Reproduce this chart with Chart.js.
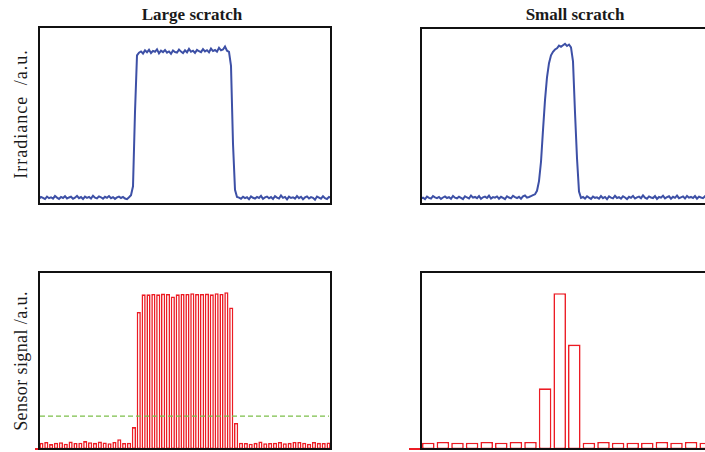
<!DOCTYPE html>
<html>
<head>
<meta charset="utf-8">
<script src="https://cdn.jsdelivr.net/npm/chart.js@4.4.1/dist/chart.umd.min.js"></script>
<style>
  html, body { margin: 0; padding: 0; background: #fff; overflow: hidden; }
  body { width: 705px; height: 452px; position: relative; }
  canvas { position: absolute; }
  .lbl { position: absolute; white-space: nowrap; font-family: "Liberation Serif", "DejaVu Serif", serif; color: #1a1a1a; }
  .ttl { font-weight: bold; font-size: 17px; transform: translate(-50%, -50%); }
  .ylab { font-size: 18px; transform: translate(-50%, -50%) rotate(-90deg); }
</style>
</head>
<body>
<div class="lbl ttl" style="left:192px; top:15px;">Large scratch</div>
<div class="lbl ttl" style="left:575px; top:15px;">Small scratch</div>
<div class="lbl ylab" style="left:21px; top:114px; letter-spacing:1px; word-spacing:5px;">Irradiance /a.u.</div>
<div class="lbl ylab" style="left:21px; top:361px; letter-spacing:0.4px;">Sensor signal /a.u.</div>

<canvas id="irrLarge" width="296" height="181" style="left:37px; top:25px;"></canvas>
<canvas id="irrSmall" width="296" height="180" style="left:419px; top:26px;"></canvas>
<canvas id="sigLarge" width="300" height="181" style="left:33px; top:270px;"></canvas>
<canvas id="sigSmall" width="308" height="181" style="left:407px; top:270px;"></canvas>

<script>
// sample positions along the scan (same for both irradiance profiles)
const positions = [
  0,2,4,6,8,10,12,14,16,18,20,22,24,26,28,30,32,34,36,38,
  40,42,44,46,48,50,52,54,56,58,60,62,64,66,68,70,72,74,76,78,
  80,82,84,86,88,90,92,94,96,98,100,102,104,106,108,110,112,114,116,118,
  120,122,124,126,128,130,132,134,136,138,140,142,144,146,148,150,152,154,156,158,
  160,162,164,166,168,170,172,174,176,178,180,182,184,186,188,190,192,194,196,198,
  200,202,204,206,208,210,212,214,216,218,220,222,224,226,228,230,232,234,236,238,
  240,242,244,246,248,250,252,254,256,258,260,262,264,266,268,270,272,274,276,278,
  280,282,284,286,288,290,292
];

const irradianceLarge = [
  0.03,0.04,0.035,0.028,0.042,0.033,0.038,0.03,0.045,0.036,
  0.029,0.04,0.034,0.044,0.031,0.037,0.041,0.03,0.036,0.046,
  0.033,0.039,0.028,0.042,0.035,0.04,0.031,0.047,0.036,0.032,
  0.043,0.038,0.03,0.041,0.035,0.045,0.033,0.039,0.029,0.037,
  0.042,0.034,0.04,0.031,0.027,0.038,
  0.05,0.1,0.52,0.84,0.855,
  0.862,0.85,0.868,0.857,0.871,0.853,0.865,0.86,0.874,0.851,
  0.866,0.858,0.87,0.855,0.862,0.849,0.867,0.859,0.856,0.872,
  0.861,0.853,0.868,0.857,0.876,0.86,0.866,0.854,0.871,0.863,
  0.858,0.875,0.862,0.869,0.857,0.878,0.864,0.87,0.861,0.882,
  0.868,0.873,0.89,0.866,0.86,
  0.78,0.34,0.08,0.04,
  0.036,0.03,0.041,0.033,0.038,0.027,0.043,0.035,0.031,0.04,
  0.034,0.046,0.029,0.037,0.042,0.032,0.039,0.028,0.044,0.036,
  0.031,0.048,0.035,0.04,0.026,0.042,0.034,0.038,0.03,0.045,
  0.033,0.041,0.027,0.037,0.043,0.031,0.039,0.035,0.024,0.042,
  0.036,0.03,0.044,0.033,0.028,0.04,0.035
];

const irradianceSmall = [
  0.03,0.036,0.028,0.042,0.035,0.031,0.045,0.038,0.033,0.04,
  0.029,0.037,0.043,0.034,0.039,0.03,0.046,0.036,0.032,0.041,
  0.035,0.028,0.044,0.037,0.031,0.048,0.036,0.04,0.033,0.045,
  0.029,0.038,0.042,0.034,0.047,0.031,0.039,0.036,0.043,0.03,
  0.041,0.035,0.028,0.044,0.037,0.032,0.046,0.039,0.034,0.041,
  0.03,0.043,0.048,0.036,0.04,0.045,0.05,
  0.055,0.075,0.13,0.24,0.42,0.59,0.72,0.8,0.845,0.865,
  0.878,0.885,0.9,0.893,0.902,0.91,0.898,0.906,0.89,0.81,
  0.52,0.26,0.07,0.035,
  0.04,0.031,0.044,0.036,0.029,0.042,0.035,0.038,0.03,0.045,
  0.033,0.04,0.027,0.043,0.036,0.032,0.047,0.034,0.039,0.03,
  0.044,0.037,0.028,0.041,0.035,0.046,0.031,0.038,0.042,0.033,
  0.049,0.036,0.03,0.043,0.037,0.034,0.045,0.029,0.04,0.036,
  0.047,0.032,0.039,0.044,0.03,0.041,0.035,0.048,0.033,0.038,
  0.043,0.031,0.046,0.036,0.04,0.034,0.045,0.03,0.042,0.037,
  0.033,0.044,0.039,0.035,0.041,0.036
];

// sensor pixels: 60 for the large scratch, 20 for the small one
const pixelsLarge = [
  1,2,3,4,5,6,7,8,9,10,11,12,13,14,15,16,17,18,19,20,
  21,22,23,24,25,26,27,28,29,30,31,32,33,34,35,36,37,38,39,40,
  41,42,43,44,45,46,47,48,49,50,51,52,53,54,55,56,57,58,59,60
];
const signalLarge = [
  0.035,0.04,0.028,0.036,0.038,0.03,0.042,0.034,0.036,0.045,
  0.038,0.035,0.042,0.037,0.033,0.04,0.055,0.034,0.036,
  0.124,0.774,
  0.874,0.874,0.876,0.874,0.878,0.876,0.862,0.874,0.876,0.876,
  0.88,0.876,0.876,0.878,0.874,0.88,0.876,0.886,
  0.8,0.147,
  0.036,0.034,0.03,0.035,0.042,0.033,0.034,0.036,0.04,0.033,
  0.035,0.04,0.04,0.036,0.03,0.04,0.035,0.034,0.037
];

const pixelsSmall = [1,2,3,4,5,6,7,8,9,10,11,12,13,14,15,16,17,18,19,20];
const signalSmall = [
  0.036,0.04,0.036,0.036,0.04,0.036,0.04,0.04,0.343,0.88,
  0.59,0.036,0.04,0.036,0.036,0.036,0.04,0.036,0.04,0.036
];

const threshold = 0.186;

const BLUE = "#3d50a6";
const RED = "#ec1c24";
const GREEN = "#7cbf4a";

// box around the plot area, plus threshold line and baseline stub
const framePlugin = {
  id: "frame",
  afterDatasetsDraw(chart, args, opts) {
    const { ctx, chartArea: a } = chart;
    ctx.save();
    if (opts.threshold != null) {
      const y = chart.scales.y.getPixelForValue(opts.threshold);
      ctx.strokeStyle = GREEN;
      ctx.lineWidth = 1.2;
      ctx.setLineDash([5, 3]);
      ctx.beginPath();
      ctx.moveTo(a.left + 1, y);
      ctx.lineTo(a.right - 2, y);
      ctx.stroke();
      ctx.setLineDash([]);
    }
    ctx.strokeStyle = "#111";
    ctx.lineWidth = 2;
    ctx.strokeRect(a.left, a.top, a.width, a.height);
    if (opts.stub) {
      ctx.strokeStyle = RED;
      ctx.lineWidth = 2;
      ctx.beginPath();
      ctx.moveTo(a.left - opts.stub, a.bottom);
      ctx.lineTo(a.left - 1, a.bottom);
      ctx.stroke();
    }
    ctx.restore();
  },
};

const baseOptions = (padding, frame) => ({
  responsive: false,
  animation: false,
  layout: { padding },
  plugins: { legend: { display: false }, tooltip: { enabled: false }, frame },
});

const profileChart = (id, values, padding) => {
  const points = positions.map((x, i) => ({ x, y: values[i] }));
  return new Chart(document.getElementById(id), {
    type: "line",
    data: {
      datasets: [{
        data: points,
        borderColor: BLUE,
        borderWidth: 2,
        pointRadius: 0,
        tension: 0,
      }],
    },
    options: {
      ...baseOptions(padding, {}),
      scales: {
        x: { type: "linear", display: false, min: 0, max: 292 },
        y: { display: false, min: 0, max: 1 },
      },
    },
    plugins: [framePlugin],
  });
};

const signalChart = (id, labels, values, padding, frame) =>
  new Chart(document.getElementById(id), {
    type: "bar",
    data: {
      labels,
      datasets: [{
        data: values,
        backgroundColor: "#ffffff",
        borderColor: RED,
        borderWidth: 1.6,
        borderSkipped: false,
        barPercentage: 0.86,
        categoryPercentage: 1,
      }],
    },
    options: {
      ...baseOptions(padding, frame),
      scales: {
        x: { display: false },
        y: { display: false, min: 0, max: 1 },
      },
    },
    plugins: [framePlugin],
  });

profileChart("irrLarge", irradianceLarge, { left: 2, right: 2, top: 2, bottom: 2 });
profileChart("irrSmall", irradianceSmall, { left: 2, right: 2, top: 2, bottom: 2 });
signalChart("sigLarge", pixelsLarge, signalLarge,
  { left: 6, right: 2, top: 2, bottom: 2 }, { threshold, stub: 4 });
signalChart("sigSmall", pixelsSmall, signalSmall,
  { left: 14, right: 2, top: 2, bottom: 2 }, { stub: 12 });
</script>
</body>
</html>
